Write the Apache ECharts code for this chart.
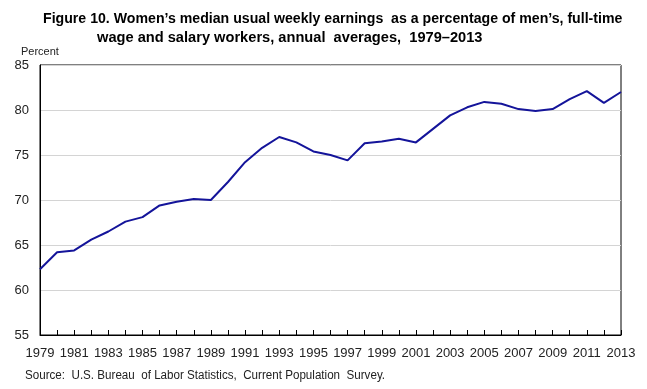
<!DOCTYPE html>
<html><head><meta charset="utf-8">
<script src="https://cdn.jsdelivr.net/npm/echarts@6/dist/echarts.min.js"></script>
<style>html,body{margin:0;padding:0;background:#fff}#c{width:647px;height:389px}</style>
</head><body><div id="c"></div>
<script>
const years = ['1979','1980','1981','1982','1983','1984','1985','1986','1987','1988','1989','1990','1991','1992','1993','1994','1995','1996','1997','1998','1999','2000','2001','2002','2003','2004','2005','2006','2007','2008','2009','2010','2011','2012','2013'];
const ratio = [62.3,64.2,64.4,65.6,66.5,67.6,68.1,69.4,69.8,70.1,70.0,72.0,74.2,75.8,77.0,76.4,75.4,75.0,74.4,76.3,76.5,76.8,76.4,77.9,79.4,80.3,80.9,80.7,80.1,79.9,80.1,81.2,82.1,80.8,82.0];
const yTicks = [55,60,65,70,75,80,85];
const titleLine1 = 'Figure 10. Women\u2019s median usual weekly earnings  as a percentage of men\u2019s, full-time';
const titleLine2 = 'wage and salary workers, annual  averages,  1979\u20132013';
const sourceText = 'Source:  U.S. Bureau  of Labor Statistics,  Current Population  Survey.';
const FONT = '"Liberation Sans", Arial, sans-serif';
const chart = echarts.init(document.getElementById('c'));
chart.setOption({
  animation: false,
  graphic: [
    {type: 'text', x: 43, y: 12, scaleX: 1.01, style: {text: titleLine1, font: 'bold 14px ' + FONT, fill: '#000'}},
    {type: 'text', x: 97, y: 31, scaleX: 1.045, style: {text: titleLine2, font: 'bold 14px ' + FONT, fill: '#000'}},
    {type: 'text', x: 21, y: 46, style: {text: 'Percent', font: '11px ' + FONT, fill: '#222'}},
    {type: 'text', x: 25, y: 370, scaleX: 0.968, style: {text: sourceText, font: '12px ' + FONT, fill: '#222'}}
  ],
  grid: {left: 40, right: 26, top: 65, bottom: 54, show: true, borderColor: '#000', borderWidth: 1, backgroundColor: 'transparent'},
  xAxis: {
    type: 'category', data: years, boundaryGap: false,
    axisLine: {lineStyle: {color: '#000', width: 1}},
    axisTick: {show: true, inside: true, length: 5, interval: 0, lineStyle: {color: '#000'}},
    axisLabel: {interval: 1, fontFamily: FONT, fontSize: 13, color: '#222', margin: 12},
    splitLine: {show: false}
  },
  yAxis: {
    type: 'value', min: yTicks[0], max: yTicks[yTicks.length-1], interval: 5,
    axisLine: {show: true, lineStyle: {color: '#000'}},
    axisTick: {show: false},
    axisLabel: {fontFamily: FONT, fontSize: 13, color: '#222', margin: 11},
    splitLine: {show: true, lineStyle: {color: '#d4d4d4', width: 1}}
  },
  series: [{
    type: 'line', data: ratio, symbol: 'none',
    lineStyle: {color: '#14149a', width: 2}
  }]
});
</script></body></html>
